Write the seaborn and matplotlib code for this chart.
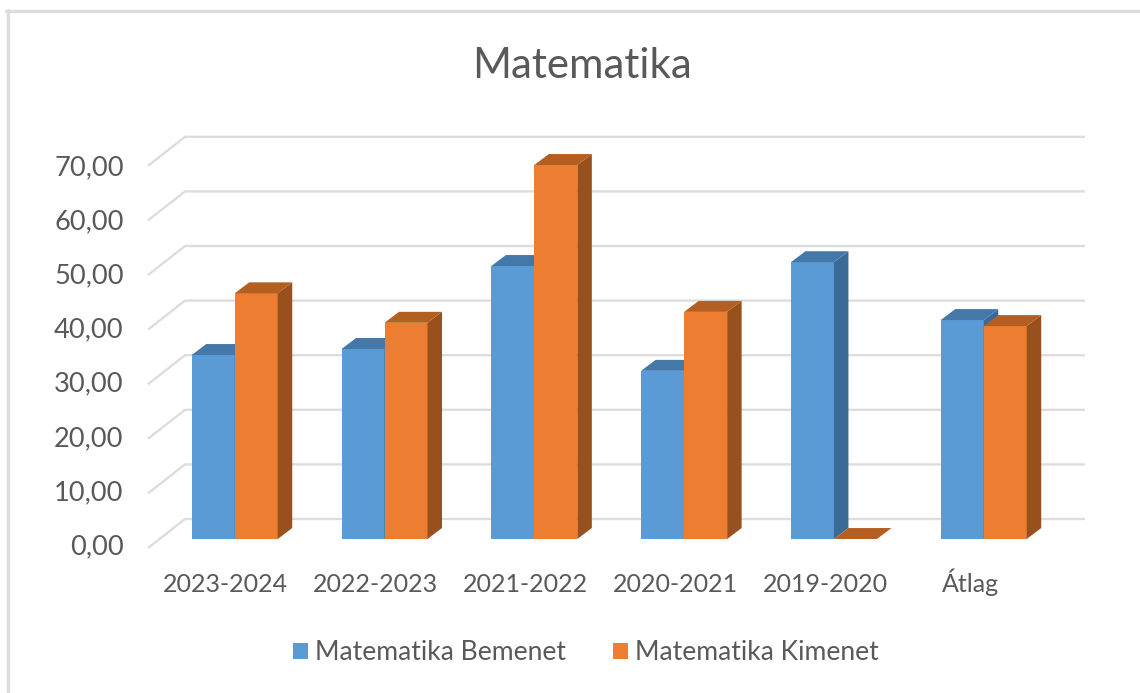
import matplotlib
matplotlib.use('Agg')
import matplotlib.pyplot as plt
from matplotlib.lines import Line2D
from matplotlib.patches import Polygon
import pandas as pd
import seaborn as sns

categories = ['2023-2024', '2022-2023', '2021-2022', '2020-2021', '2019-2020', 'Átlag']
bemenet = [33.7, 34.8, 50.0, 30.8, 50.7, 40.1]
kimenet = [45.0, 39.6, 68.5, 41.6, 0.0, 39.0]
series_names = ['Matematika Bemenet', 'Matematika Kimenet']
grid_values = [0, 10, 20, 30, 40, 50, 60, 70]
grid_labels = ['0,00', '10,00', '20,00', '30,00', '40,00', '50,00', '60,00', '70,00']
label_shift = [-0.06, -0.06, -0.06, -0.06, -0.06, -0.09]

colors = ['#5B9BD5', '#ED7D31']
side_colors = ['#3A6A96', '#98501C']
top_colors = ['#4478A8', '#B45F22']
grid_color = '#DDDDDD'
text_color = '#595959'

W, H = 1140, 693

sns.set_theme(style='white')
plt.rcParams['font.family'] = ['Lato', 'DejaVu Sans']

df = pd.DataFrame({
    'kategoria': categories * 2,
    'ertek': bemenet + kimenet,
    'sorozat': [series_names[0]] * 6 + [series_names[1]] * 6,
})

fig = plt.figure(figsize=(W / 100, H / 100), dpi=100)
ax = fig.add_axes([148 / W, 1 - 548 / H, (1085 - 148) / W, (548 - 137) / H])

sns.barplot(data=df, x='kategoria', y='ertek', hue='sorozat', hue_order=series_names,
            palette=colors, width=0.574, gap=0, saturation=1, linewidth=0, ax=ax)

ax.set_xlim(-0.579, 5.676)
ax.set_ylim(-1.648, 73.63)

# pseudo 3d: depth of the bars and of the floor, in data units
bar_dx, bar_dy = 0.0968, 2.01
wall_dx, wall_dy = 0.247, 5.31
floor_shift = -1.648

x0, x1 = ax.get_xlim()
for v in grid_values:
    ax.plot([x0, x0 + wall_dx, x1], [v + floor_shift, v + floor_shift + wall_dy, v + floor_shift + wall_dy],
            color=grid_color, lw=1.7, zorder=0.5, clip_on=False, solid_capstyle='butt')

for n, cont in enumerate(ax.containers):
    for bar in cont:
        bar.set_zorder(1 + 2 * n)
        l = bar.get_x()
        r = l + bar.get_width()
        h = bar.get_height()
        side = [(r, 0), (r + bar_dx, bar_dy), (r + bar_dx, h + bar_dy), (r, h)]
        top = [(l, h), (l + bar_dx, h + bar_dy), (r + bar_dx, h + bar_dy), (r, h)]
        if h > 0:
            ax.add_patch(Polygon(side, closed=True, fc=side_colors[n], ec='none', zorder=2 + 2 * n))
        ax.add_patch(Polygon(top, closed=True, fc=top_colors[n], ec='none', zorder=2 + 2 * n))

ax.set_xlabel('')
ax.set_ylabel('')
sns.despine(ax=ax, left=True, bottom=True)
ax.set_xticks([i + s for i, s in enumerate(label_shift)])
ax.set_xticklabels(categories)
ax.set_yticks([v * 0.99 - 0.9 for v in grid_values])
ax.set_yticklabels(grid_labels)
ax.tick_params(axis='x', length=0, pad=32, labelsize=18, labelcolor=text_color)
ax.tick_params(axis='y', length=0, pad=17.5, labelsize=19.6, labelcolor=text_color)
for lab in ax.get_xticklabels():
    lab.set_va('baseline')

sns.move_legend(ax, 'center', bbox_to_anchor=(586 / W, 1 - 653 / H), bbox_transform=fig.transFigure,
                ncol=2, frameon=False, title=None, fontsize=19.1, labelcolor=text_color,
                handlelength=0.56, handleheight=0.58, handletextpad=0.28, columnspacing=1.75)

fig.text(581.5 / W, 1 - 66 / H, 'Matematika', ha='center', va='center', fontsize=30.2, color=text_color)

fig.add_artist(Line2D([7.5 / W, 7.5 / W], [0, 1 - 10 / H], color=grid_color, lw=2.4))
fig.add_artist(Line2D([6 / W, 1], [1 - 10.5 / H, 1 - 10.5 / H], color=grid_color, lw=2.4))

plt.savefig('out.png', dpi=100)
